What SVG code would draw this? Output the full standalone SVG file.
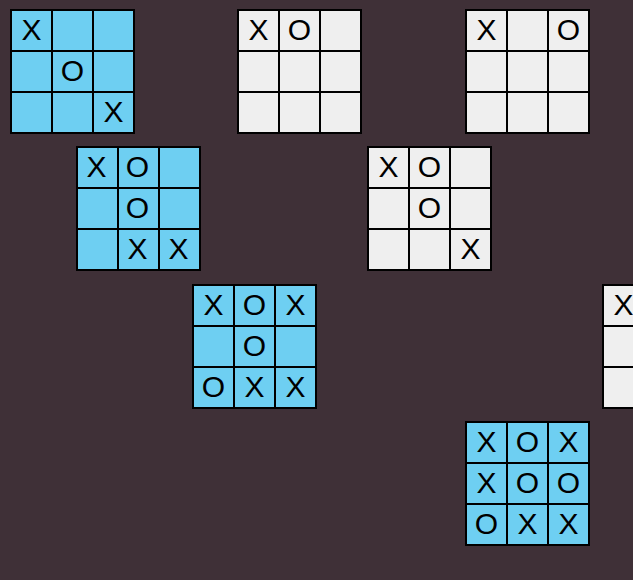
<svg xmlns="http://www.w3.org/2000/svg" xmlns:xlink="http://www.w3.org/1999/xlink" width="633" height="580" viewBox="0 0 633 580">
<style>
.bg{fill:#3f3037}
.blue{fill:#6ecff2}
.white{fill:#efefef}
.grid{fill:none;stroke:#000;stroke-width:2;stroke-linecap:square}
text{font-family:"Liberation Sans",Arial,sans-serif;font-size:30px;fill:#000;text-anchor:middle}
</style>
<defs>
<path id="grid" class="grid" d="M0 0H123V123H0Z M41 0V123 M82 0V123 M0 41H123 M0 82H123"/>
</defs>
<rect class="bg" x="0" y="0" width="633" height="580"/>
<g id="board-a" transform="translate(11,10)">
<rect class="blue" width="123" height="123"/><use xlink:href="#grid" href="#grid"/>
<text x="20.5" y="29.5">X</text><text x="61.5" y="70.5">O</text><text x="102.5" y="111.5">X</text>
</g>
<g id="board-b" transform="translate(238,10)">
<rect class="white" width="123" height="123"/><use xlink:href="#grid" href="#grid"/>
<text x="20.5" y="29.5">X</text><text x="61.5" y="29.5">O</text>
</g>
<g id="board-c" transform="translate(466,10)">
<rect class="white" width="123" height="123"/><use xlink:href="#grid" href="#grid"/>
<text x="20.5" y="29.5">X</text><text x="102.5" y="29.5">O</text>
</g>
<g id="board-d" transform="translate(77,147)">
<rect class="blue" width="123" height="123"/><use xlink:href="#grid" href="#grid"/>
<text x="19.5" y="29.5">X</text><text x="60.5" y="29.5">O</text>
<text x="60.5" y="70.5">O</text>
<text x="60.5" y="111.5">X</text><text x="101.5" y="111.5">X</text>
</g>
<g id="board-e" transform="translate(368,147)">
<rect class="white" width="123" height="123"/><use xlink:href="#grid" href="#grid"/>
<text x="20.5" y="29.5">X</text><text x="61.5" y="29.5">O</text>
<text x="61.5" y="70.5">O</text>
<text x="102.5" y="111.5">X</text>
</g>
<g id="board-f" transform="translate(193,285)">
<rect class="blue" width="123" height="123"/><use xlink:href="#grid" href="#grid"/>
<text x="20.5" y="29.5">X</text><text x="61.5" y="29.5">O</text><text x="102.5" y="29.5">X</text>
<text x="61.5" y="70.5">O</text>
<text x="20.5" y="111.5">O</text><text x="61.5" y="111.5">X</text><text x="102.5" y="111.5">X</text>
</g>
<g id="board-g" transform="translate(603,285)">
<rect class="white" width="123" height="123"/><use xlink:href="#grid" href="#grid"/>
<text x="20.5" y="29.5">X</text>
</g>
<g id="board-h" transform="translate(466,422)">
<rect class="blue" width="123" height="123"/><use xlink:href="#grid" href="#grid"/>
<text x="20.5" y="29.5">X</text><text x="61.5" y="29.5">O</text><text x="102.5" y="29.5">X</text>
<text x="20.5" y="70.5">X</text><text x="61.5" y="70.5">O</text><text x="102.5" y="70.5">O</text>
<text x="20.5" y="111.5">O</text><text x="61.5" y="111.5">X</text><text x="102.5" y="111.5">X</text>
</g>
</svg>
